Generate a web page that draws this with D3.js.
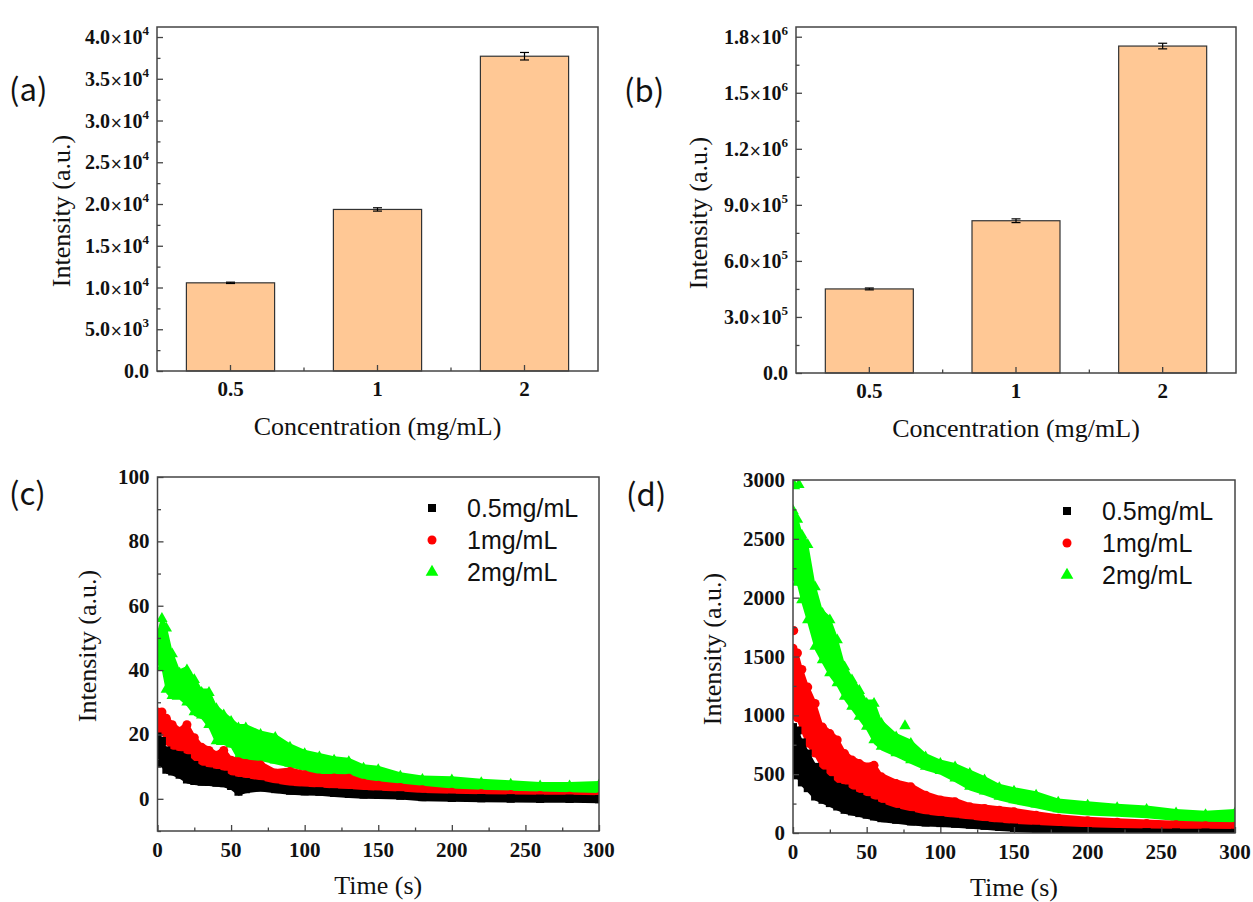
<!DOCTYPE html>
<html><head><meta charset="utf-8">
<script src="https://cdn.jsdelivr.net/npm/d3@7"></script>
<style>body{margin:0;background:#fff}svg{display:block}</style>
</head><body>
<svg id="c" width="1253" height="902"></svg>
<script>
// ---------------- data ----------------
const categories = ["0.5", "1", "2"];
const barA = [10560, 19350, 37700];
const errA = [80, 200, 450];
const barB = [450000, 815000, 1750000];
const errB = [5000, 10000, 15000];
const aTicks = [0, 5000, 10000, 15000, 20000, 25000, 30000, 35000, 40000];
const bTicks = [0, 300000, 600000, 900000, 1200000, 1500000, 1800000];
const cYTicks = [0, 20, 40, 60, 80, 100];
const dYTicks = [0, 500, 1000, 1500, 2000, 2500, 3000];
const timeTicks = [0, 50, 100, 150, 200, 250, 300];
const seriesNames = ["0.5mg/mL", "1mg/mL", "2mg/mL"];

// time (s) at which the upper / lower edge of each scatter band was read
const times = [0,3,6,10,15,20,25,30,35,40,45,50,55,60,70,80,90,100,110,120,130,140,150,165,180,200,220,240,260,280,300];

// panel (c)
const cBlackHi = [19.4,18,15,14,13.5,12.6,10.5,9,8.5,8,7.5,6,5.5,5.2,4.5,3.5,2.8,2.5,2.3,2,1.8,1.5,1.3,1,0.6,0.3,0.2,0.1,0,0,-0.1];
const cBlackLo = [14,11,9,8.5,7.5,6,5.5,5.3,5.2,5,4.8,4,2.2,3,3.5,3,2.5,2.3,2.2,1.8,1.5,1.3,1.2,1,0.5,0.3,0.2,0.1,0,0,-0.1];
const cRedHi = [27,27,25,23,21,23,19,16,15,13.5,15,12,11.5,11,10.5,8,8.5,7.5,6.5,6.5,6.4,4.8,4.2,3.5,2.8,2,1.6,1.3,1.0,0.8,0.6];
const cRedLo = [22,21,18,16,15,14,12,11,10,9.5,9,8,7,7,6.5,5.5,5,4.5,4.2,4,3.8,3.2,3,2.7,2.2,1.8,1.5,1.0,0.7,0.5,0.4];
const cGreenHi = [51,56,53,45,39,40,37,33,33,28,26,24,22,22,20,19,16,14,13,12,11.5,9.5,9,7,6,5.8,5,4.5,4,4,4.3];
const cGreenLo = [43,41,34,32,32,30,27,26,23,18,18,17,13,13,13,12,11,10,8.5,8,7.5,6.8,6,5,4.2,3.8,3.4,3,2.6,2.5,2.5];

// panel (d)
const dBlackHi = [900,870,770,675,562,505,449,392,378,335,307,279,250,222,179,151,123,109,95,80,66,54,44,35,25,15,8,5,3,2,1];
const dBlackLo = [537,490,430,381,310,282,254,225,197,183,169,155,140,126,112,98,89,84,78,70,61,52,44,35,25,15,8,5,3,2,1];
const dRedHi = [1570,1530,1390,1240,1100,900,845,790,675,620,590,560,575,477,420,392,321,280,265,222,208,194,180,150,125,105,92,80,70,62,58];
const dRedLo = [1030,980,880,764,680,565,480,424,395,367,339,310,296,268,225,197,169,155,140,126,118,106,98,85,75,60,50,42,38,35,32];
const dGreenHi = [2740,2665,2530,2450,2090,1865,1810,1640,1410,1300,1210,1100,1100,930,815,760,645,590,560,505,450,385,355,320,260,236,215,200,170,155,170];
const dGreenLo = [2180,2130,1980,1810,1585,1470,1360,1275,1160,1075,990,905,790,735,680,620,565,530,465,395,355,310,280,245,205,183,172,160,135,120,112];
const dGreenExtra = [[1, 2950], [4, 2960], [76, 910]];
const dRedExtra = [[0.5, 1720]];

// ---------------- drawing ----------------
const svg = d3.select("#c");
const SERIF = "'Liberation Serif','Times New Roman',serif";
const SANS = "'Liberation Sans',Arial,sans-serif";
const LABF = "'Noto Sans CJK SC','Noto Sans',sans-serif";
const AX = "#444";
const BAR = "#FFC895";
const COLORS = ["#000000", "#ff0000", "#00ff00"];
const SYMS = [d3.symbolSquare, d3.symbolCircle, d3.symbolTriangle];
const SYMSIZE = [64, 64, 56];
const MR = 4; // marker half-size in px, widens the band like overlapping markers

function panelLabel(txt, x, y) {
  svg.append("text").attr("x", x).attr("y", y).attr("font-family", LABF)
    .attr("font-size", 31).attr("fill", "#111").text(txt);
}

function yTitle(cx, cy) {
  svg.append("text").attr("transform", `translate(${cx},${cy}) rotate(-90)`)
    .attr("text-anchor", "middle").attr("dominant-baseline", "central")
    .attr("font-family", SERIF).attr("font-size", 26).attr("fill", "#111")
    .text("Intensity (a.u.)");
}
function xTitle(txt, cx, by) {
  svg.append("text").attr("x", cx).attr("y", by).attr("text-anchor", "middle")
    .attr("font-family", SERIF).attr("font-size", 26).attr("fill", "#111").text(txt);
}

function frame(g, l, r, t, b) {
  g.append("rect").attr("x", l).attr("y", t).attr("width", r - l).attr("height", b - t)
    .attr("fill", "none").attr("stroke", AX).attr("stroke-width", 1.5);
}

function styleAxis(sel) {
  sel.select(".domain").remove();
  sel.selectAll("line").attr("stroke", AX).attr("stroke-width", 1.3);
}

function yAxis(g, y, l, major, minor) {
  g.append("g").attr("transform", `translate(${l},0)`)
    .call(d3.axisLeft(y).tickValues(major).tickSize(-6).tickFormat("")).call(styleAxis);
  g.append("g").attr("transform", `translate(${l},0)`)
    .call(d3.axisLeft(y).tickValues(minor).tickSize(-3.5).tickFormat("")).call(styleAxis);
}

function sciLabel(g, v, x, y) {
  const t = g.append("text").attr("x", x).attr("y", y + 7).attr("text-anchor", "end")
    .attr("font-family", SERIF).attr("font-weight", "bold").attr("font-size", 20).attr("fill", "#111");
  if (v === 0) { t.text("0.0"); return; }
  const e = Math.floor(Math.log10(v) + 1e-9);
  const m = v / Math.pow(10, e);
  t.append("tspan").text(m.toFixed(1));
  t.append("tspan").attr("font-weight", "normal").attr("font-family", "'DejaVu Sans',sans-serif").attr("font-size", 15).text("\u00d7");
  t.append("tspan").text("10");
  t.append("tspan").attr("dy", -9).attr("font-size", 13).text(String(e));
}

function barPanel(o) {
  const g = svg.append("g");
  const x = d3.scaleBand().domain(categories).range([o.l, o.r]).paddingInner(0.4).paddingOuter(0.2);
  const y = d3.scaleLinear().domain(o.yDom).range([o.b, o.t]);
  const data = categories.map((c, i) => ({ c, v: o.values[i], e: o.errs[i] }));
  g.selectAll("rect.bar").data(data).join("rect").attr("class", "bar")
    .attr("x", d => x(d.c)).attr("y", d => y(d.v))
    .attr("width", x.bandwidth()).attr("height", d => y(0) - y(d.v))
    .attr("fill", BAR).attr("stroke", "#333").attr("stroke-width", 1.2);
  const eb = g.selectAll("g.eb").data(data).join("g").attr("class", "eb");
  const cx = d => x(d.c) + x.bandwidth() / 2;
  eb.append("line").attr("x1", cx).attr("x2", cx).attr("y1", d => y(d.v - d.e)).attr("y2", d => y(d.v + d.e)).attr("stroke", "#000").attr("stroke-width", 1.2);
  eb.append("line").attr("x1", d => cx(d) - 4.5).attr("x2", d => cx(d) + 4.5).attr("y1", d => y(d.v + d.e)).attr("y2", d => y(d.v + d.e)).attr("stroke", "#000").attr("stroke-width", 1.2);
  eb.append("line").attr("x1", d => cx(d) - 4.5).attr("x2", d => cx(d) + 4.5).attr("y1", d => y(d.v - d.e)).attr("y2", d => y(d.v - d.e)).attr("stroke", "#000").attr("stroke-width", 1.2);
  const minor = o.ticks.slice(0, -1).map((v, i) => (v + o.ticks[i + 1]) / 2);
  yAxis(g, y, o.l, o.ticks, minor);
  g.append("g").attr("transform", `translate(0,${o.b})`)
    .call(d3.axisBottom(x).tickSize(-6).tickFormat("")).call(styleAxis);
  const step = x.step();
  const bounds = categories.slice(0, -1).map(c => x(c) + x.bandwidth() / 2 + step / 2);
  g.selectAll("line.xm").data(bounds).join("line").attr("class", "xm")
    .attr("x1", d => d).attr("x2", d => d).attr("y1", o.b).attr("y2", o.b - 3.5)
    .attr("stroke", AX).attr("stroke-width", 1.3);
  frame(g, o.l, o.r, o.t, o.b);
  o.ticks.forEach(v => sciLabel(g, v, o.l - 8, y(v)));
  g.selectAll("text.xl").data(categories).join("text").attr("class", "xl")
    .attr("x", d => x(d) + x.bandwidth() / 2).attr("y", o.b + 25).attr("text-anchor", "middle")
    .attr("font-family", SERIF).attr("font-weight", "bold").attr("font-size", 21).attr("fill", "#111").text(d => d);
  yTitle(o.ytx, o.yty);
  xTitle("Concentration (mg/mL)", (o.l + o.r) / 2, o.b + 64);
}

function scatterPanel(o) {
  const g = svg.append("g");
  const x = d3.scaleLinear().domain([0, 300]).range([o.l, o.r]);
  const y = d3.scaleLinear().domain(o.yDom).range([o.b, o.t]);
  const cid = "clip" + o.id;
  svg.append("clipPath").attr("id", cid).append("rect")
    .attr("x", o.l).attr("y", o.t).attr("width", o.r - o.l).attr("height", o.b - o.t);
  const pg = g.append("g").attr("clip-path", `url(#${cid})`);
  [2, 1, 0].forEach(k => {
    const hi = o.hi[k], lo = o.lo[k];
    const pts = times.map((t, i) => ({ t, hi: hi[i], lo: lo[i] }));
    pg.append("path").datum(pts)
      .attr("d", d3.area().x(d => x(d.t)).y0(d => y(d.lo) + MR).y1(d => y(d.hi) - MR))
      .attr("fill", COLORS[k]);
    const sym = d3.symbol().type(SYMS[k]).size(SYMSIZE[k]);
    const mk = pts.flatMap(d => [[d.t, d.hi], [d.t, d.lo]]).concat(o.extra[k] || []);
    pg.selectAll(null).data(mk).join("path")
      .attr("transform", d => `translate(${x(d[0])},${y(d[1])})`)
      .attr("d", sym).attr("fill", COLORS[k]);
  });
  const yMinor = [];
  for (let i = 0; i < o.yTicks.length - 1; i++) yMinor.push((o.yTicks[i] + o.yTicks[i + 1]) / 2);
  if (o.extraMinor) yMinor.push(...o.extraMinor);
  yAxis(g, y, o.l, o.yTicks, yMinor);
  const xMinor = timeTicks.slice(0, -1).map((v, i) => (v + timeTicks[i + 1]) / 2);
  g.append("g").attr("transform", `translate(0,${o.b})`)
    .call(d3.axisBottom(x).tickValues(timeTicks).tickSize(-6).tickFormat("")).call(styleAxis);
  g.append("g").attr("transform", `translate(0,${o.b})`)
    .call(d3.axisBottom(x).tickValues(xMinor).tickSize(-3.5).tickFormat("")).call(styleAxis);
  frame(g, o.l, o.r, o.t, o.b);
  g.selectAll("text.yl").data(o.yTicks).join("text").attr("class", "yl")
    .attr("x", o.l - 8).attr("y", d => y(d) + 7).attr("text-anchor", "end")
    .attr("font-family", SERIF).attr("font-weight", "bold").attr("font-size", 21).attr("fill", "#111").text(d => d);
  g.selectAll("text.xl").data(timeTicks).join("text").attr("class", "xl")
    .attr("x", d => x(d)).attr("y", o.b + 26).attr("text-anchor", "middle")
    .attr("font-family", SERIF).attr("font-weight", "bold").attr("font-size", 21).attr("fill", "#111").text(d => d);
  yTitle(o.ytx, o.yty);
  xTitle("Time (s)", (o.l + o.r) / 2, o.b + 63);
  seriesNames.forEach((nm, k) => {
    const yy = o.legY + k * 32;
    g.append("path").attr("transform", `translate(${o.legX},${yy})`)
      .attr("d", d3.symbol().type(SYMS[k]).size(k === 2 ? 70 : 64)).attr("fill", COLORS[k]);
    g.append("text").attr("x", o.legX + 35).attr("y", yy + 9)
      .attr("font-family", SANS).attr("font-size", 25).attr("fill", "#111").text(nm);
  });
}

barPanel({ l: 157, r: 598, t: 27, b: 371, yDom: [0, 41200], values: barA, errs: errA, ticks: aTicks, ytx: 61, yty: 211 });
barPanel({ l: 796, r: 1236, t: 27, b: 373, yDom: [0, 1852000], values: barB, errs: errB, ticks: bTicks, ytx: 698, yty: 213 });
scatterPanel({ id: "c", l: 157.5, r: 599, t: 477, b: 831, yDom: [-10, 100], yTicks: cYTicks, extraMinor: [-10 + 0.0001],
  hi: [cBlackHi, cRedHi, cGreenHi], lo: [cBlackLo, cRedLo, cGreenLo], extra: [[], [], []],
  ytx: 87, yty: 646, legX: 432, legY: 508 });
scatterPanel({ id: "d", l: 793, r: 1235, t: 480, b: 833, yDom: [0, 3000], yTicks: dYTicks,
  hi: [dBlackHi, dRedHi, dGreenHi], lo: [dBlackLo, dRedLo, dGreenLo], extra: [[], dRedExtra, dGreenExtra],
  ytx: 712, yty: 649, legX: 1067, legY: 511 });

panelLabel("(a)", 9, 101);
panelLabel("(b)", 624, 102);
panelLabel("(c)", 9, 505);
panelLabel("(d)", 626, 506);
</script>
</body></html>
